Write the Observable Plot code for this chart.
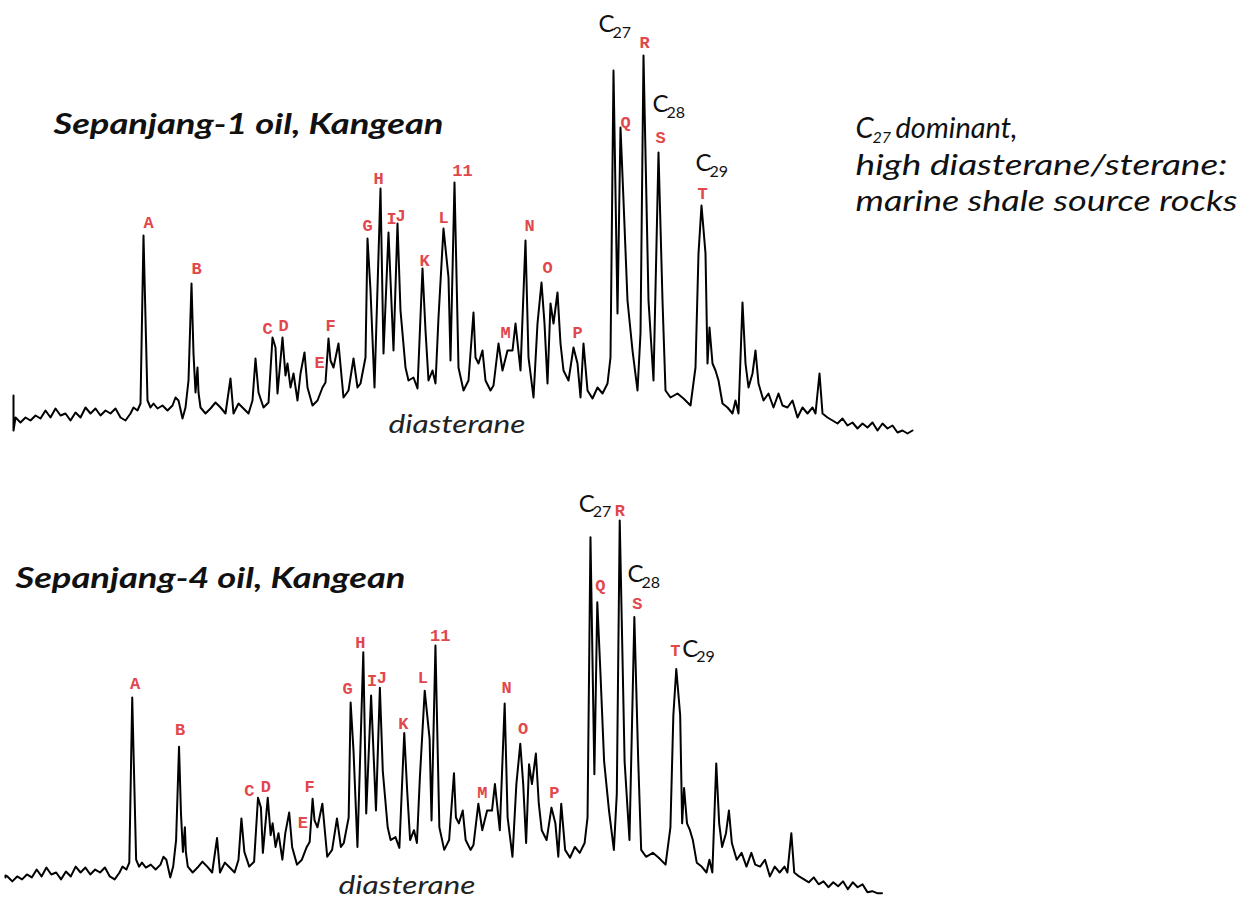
<!DOCTYPE html>
<html>
<head>
<meta charset="utf-8">
<script src="https://cdn.jsdelivr.net/npm/d3@7"></script>
<script src="https://cdn.jsdelivr.net/npm/@observablehq/plot@0.6"></script>
<style>
  body { margin: 0; background: #fff; }
  #page { position: relative; width: 1253px; height: 908px; overflow: hidden; background: #fff; }
  #page svg { position: absolute; left: 0; }
</style>
</head>
<body>
<div id="page"></div>
<script>
// Retention-time axis (arbitrary units) shared by both chromatograms
const time = [1,1,3,8,13,18,23,28,33,38,43,48,53,58,63,68,73,78,83,88,93,98,103,108,113,118,121,125,128,131,135,138,141,145,150,155,160,163,166,170,173,176,179,181,183,185,186,188,193,198,203,208,213,218,221,226,231,236,240,243,246,251,256,260,263,265,270,273,275,278,281,285,288,292,295,300,305,310,313,316,318,321,326,331,336,341,345,348,353,355,358,362,368,371,376,381,385,388,393,396,401,405,410,413,416,420,423,426,431,436,438,442,446,451,456,461,463,466,470,473,478,481,486,490,495,500,503,508,513,516,521,525,529,532,535,538,541,545,548,551,556,561,565,568,571,575,580,585,590,595,598,601,605,608,611,615,620,625,628,631,636,641,646,650,653,658,665,671,678,683,686,689,693,695,697,700,703,706,710,715,720,723,726,730,733,736,740,743,746,751,756,761,766,770,775,780,785,790,795,800,803,807,810,815,820,825,830,835,840,845,850,855,860,865,870,875,880,885,890,895,900];

// Sepanjang-1 oil intensity (arbitrary units)
const sepanjang1 = [35,0,13,8,13,10,15,12,20,13,22,15,17,10,18,13,23,17,22,15,20,17,22,13,10,17,23,20,27,195,30,23,27,22,25,20,25,33,30,12,23,50,147,77,38,63,38,23,17,22,28,23,17,52,17,27,22,17,30,72,38,23,28,93,83,37,93,55,67,43,57,30,57,78,43,25,30,43,48,92,70,63,87,33,40,72,43,47,73,192,140,43,242,77,198,80,207,120,63,50,53,42,162,100,50,60,47,113,202,153,70,248,63,40,50,118,73,67,80,50,40,45,87,60,80,80,107,60,190,73,33,107,148,107,47,127,107,138,87,60,50,83,67,33,87,40,32,43,37,47,73,360,117,303,230,130,80,40,97,375,130,50,278,130,40,33,37,32,25,63,177,225,177,67,103,67,60,50,27,23,17,30,17,128,67,43,57,80,47,30,37,23,37,25,23,30,13,23,17,23,17,57,17,13,10,7,12,5,8,2,7,3,8,0,7,2,5,-2,0,-3,0];

// Sepanjang-4 oil intensity (arbitrary units)
const sepanjang4 = [12,14,13,8,13,10,15,12,20,13,22,15,17,10,18,13,23,17,22,15,20,17,22,13,10,17,23,20,27,195,30,23,27,22,25,20,25,33,30,12,23,50,145,77,38,63,38,23,17,22,28,23,17,52,17,27,22,17,30,72,38,23,28,93,83,37,93,55,67,43,57,30,57,78,43,25,30,43,48,92,70,63,87,33,40,72,43,47,73,190,140,43,241,77,197,80,205,120,63,50,53,42,159,100,50,60,47,113,202,153,70,248,63,40,50,118,73,67,80,50,40,45,87,60,80,80,107,60,189,73,33,107,148,107,47,127,107,138,87,60,50,83,67,33,87,40,32,43,37,47,73,358,117,292,225,130,80,40,97,375,130,50,277,130,40,33,37,32,25,63,177,224,177,67,103,67,60,50,27,23,17,30,17,128,67,43,57,80,47,30,37,23,37,25,23,30,13,23,17,23,17,57,17,13,10,7,12,5,8,2,7,3,8,0,7,2,5,-3,-2,-4,-4];

// Peak identification labels
const peakNames = ["A","B","C","D","E","F","G","H","I","J","K","L","11","M","N","O","P","Q","R","S","T"];
const peakTime1 = [136,184,255,271,307,318,355,366,379,388,412,431,450,493,517,535,565,613,632,648,690];
const peakLevel1 = [208,162,102,105,68,105,205,252,212,215,170,213,260,98,205,163,98,308,388,293,237];
const peakTime4 = [134,180,251,268,306,313,352,365,377,387,409,429,447,490,515,532,564,611,631,649,688];
const peakLevel4 = [209,162,100,104,68,104,204,251,212,215,169,215,258,98,205,163,98,309,385,291,243];

// Regular sterane carbon-number annotations
const carbonNumbers = ["27","28","29"];
const carbonTime1 = [586,640,683];
const carbonLevel1 = [406,326,267];
const carbonTime4 = [589,639,695];
const carbonLevel4 = [392,320,244];

const titles = ["Sepanjang-1 oil, Kangean", "Sepanjang-4 oil, Kangean"];
const noteLines = ["dominant,", "high diasterane/sterane:", "marine shale source rocks"];
const axisNote = "diasterane";

const red = "#e2474c";
const sans = "Lato, 'Open Sans', sans-serif";
const mono = "'Liberation Mono', 'DejaVu Sans Mono', monospace";

// target rendered widths of the annotation texts (px)
const textWidths = new Map([
  [titles[0], 390], [titles[1], 390],
  [noteLines[1], 372], [noteLines[2], 382],
  [axisNote, 137]
]);

function chromatogram({values, pTime, pLevel, cTime, cLevel, xRange, yRange, height, title, titlePos, notePos, extra}) {
  const trace = time.map((t, i) => ({t, v: values[i]}));
  const peaks = peakNames.map((name, i) => ({name, t: pTime[i], v: pLevel[i]}));
  const carbons = carbonNumbers.map((n, i) => ({n, t: cTime[i], v: cLevel[i]}));
  const svg = Plot.plot({
    width: 1253,
    height,
    margin: 0,
    style: {background: "transparent", overflow: "visible"},
    x: {domain: [0, 900], range: xRange, axis: null},
    y: {domain: [0, 380], range: yRange, axis: null},
    marks: [
      Plot.line(trace, {x: "t", y: "v", stroke: "#000", strokeWidth: 2, strokeLinejoin: "round"}),
      Plot.text(peaks, {x: "t", y: "v", text: "name", fill: red, fontFamily: mono, fontSize: 17, fontWeight: "bold", textAnchor: "middle", lineAnchor: "middle"}),
      Plot.text(carbons, {x: "t", y: "v", text: () => "C", fill: "#111", fontFamily: sans, fontSize: 24, textAnchor: "start", lineAnchor: "middle"}),
      Plot.text(carbons, {x: "t", y: "v", text: "n", fill: "#111", fontFamily: sans, fontSize: 16, textAnchor: "start", lineAnchor: "middle", dx: 14, dy: 8}),
      Plot.text([title], {text: d => d, frameAnchor: "top-left", dx: titlePos[0], dy: titlePos[1], textAnchor: "start", lineAnchor: "bottom", fontFamily: sans, fontSize: 29, fontWeight: "bold", fontStyle: "italic", fill: "#111"}),
      Plot.text([axisNote], {text: d => d, frameAnchor: "top-left", dx: notePos[0], dy: notePos[1], textAnchor: "start", lineAnchor: "bottom", fontFamily: sans, fontSize: 25, fontStyle: "italic", fill: "#222"}),
      ...(extra || [])
    ]
  });
  d3.select(svg).selectAll("text").each(function() {
    const w = textWidths.get(this.textContent);
    if (w) {
      this.setAttribute("textLength", w);
      this.setAttribute("lengthAdjust", "spacingAndGlyphs");
    }
  });
  return svg;
}

const noteStyle = {frameAnchor: "top-left", textAnchor: "start", lineAnchor: "bottom", fontFamily: sans, fontStyle: "italic", fill: "#111"};
const rightNote = [
  Plot.text(["C"], {...noteStyle, text: d => d, dx: 855, dy: 137, fontSize: 29}),
  Plot.text(["27"], {...noteStyle, text: d => d, dx: 872, dy: 142, fontSize: 16}),
  Plot.text([noteLines[0]], {...noteStyle, text: d => d, dx: 895, dy: 137, fontSize: 29}),
  Plot.text([noteLines[1]], {...noteStyle, text: d => d, dx: 855, dy: 174, fontSize: 28}),
  Plot.text([noteLines[2]], {...noteStyle, text: d => d, dx: 855, dy: 210, fontSize: 28})
];

const top1 = chromatogram({
  values: sepanjang1, pTime: peakTime1, pLevel: peakLevel1, cTime: carbonTime1, cLevel: carbonLevel1,
  xRange: [12, 912], yRange: [430, 50], height: 455,
  title: titles[0], titlePos: [53, 133], notePos: [388, 432], extra: rightNote
});
const bottom4 = chromatogram({
  values: sepanjang4, pTime: peakTime4, pLevel: peakLevel4, cTime: carbonTime4, cLevel: carbonLevel4,
  xRange: [4, 881.5], yRange: [433.7, 60.2], height: 453,
  title: titles[1], titlePos: [15, 132], notePos: [338, 438]
});
top1.style.top = "0px";
bottom4.style.top = "455px";
const page = document.getElementById("page");
page.appendChild(top1);
page.appendChild(bottom4);
</script>
</body>
</html>
